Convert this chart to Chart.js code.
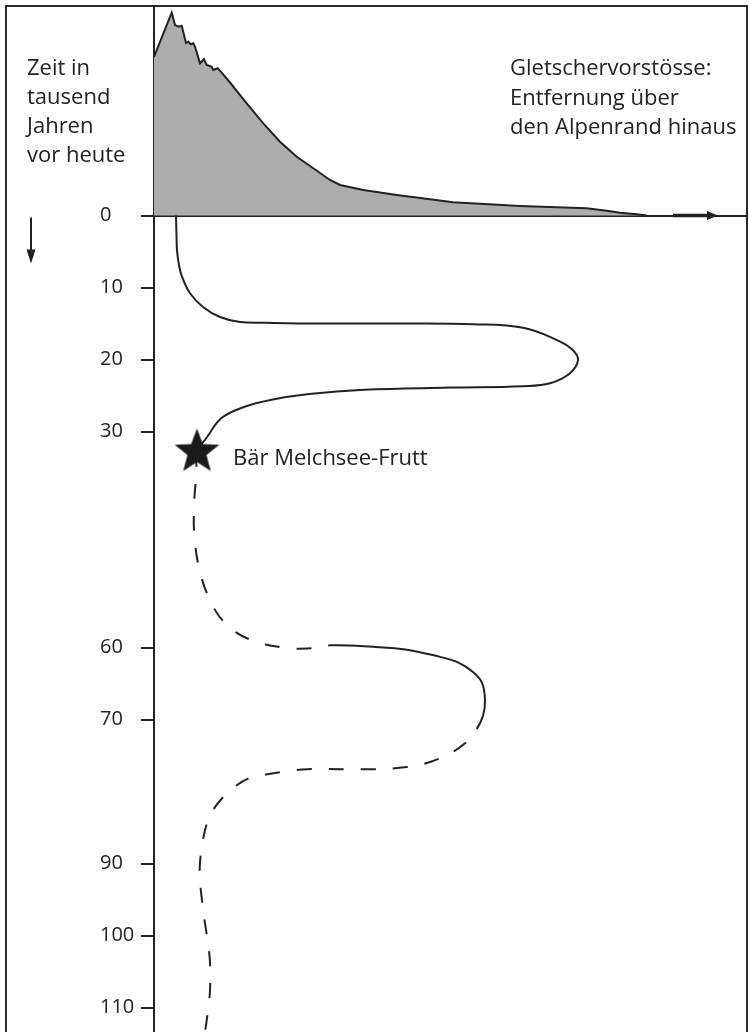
<!DOCTYPE html>
<html><head><meta charset="utf-8">
<script src="https://cdn.jsdelivr.net/npm/chart.js@4.4.1/dist/chart.umd.min.js"></script>
<style>
html,body{margin:0;padding:0;background:#fff;overflow:hidden;}
#frame{position:absolute;left:5px;top:5px;width:739px;height:1100px;border:2px solid #2b2b2b;}
#wrap{position:absolute;left:0;top:0;width:749px;height:1032px;}
</style></head><body>
<div id="frame"></div>
<div id="wrap"><canvas id="c" width="749" height="1032"></canvas></div>
<script>
// ---- data ----
const timeTicks = [0, 10, 20, 30, 60, 70, 90, 100, 110];

// top panel: glacier advance beyond the Alpine edge (distance, relative extent)
const advanceDistance = [0, 3.54, 4.2, 4.86, 5.54, 6.4, 6.86, 7.34, 7.86, 8.2, 9.2, 10.0, 10.54, 11.54, 11.86, 12.74, 13.54, 15.2, 18.54, 21.86, 25.2, 28.54, 31.86, 35.2, 37.2, 41.86, 48.54, 55.2, 59.8, 73.2, 86.54, 90.54, 93.2, 96.54, 98.54];
const advanceHeight   = [79.25, 101.4, 95.25, 94.4, 94.9, 86.25, 86.9, 85.6, 86.1, 84.4, 76.1, 78.1, 75.25, 74.4, 72.75, 73.6, 71.4, 66.5, 56.1, 46.1, 36.9, 29.4, 23.6, 17.75, 15.25, 12.75, 10.25, 8.1, 6.6, 4.75, 3.6, 2.4, 1.4, 0.6, 0];

// lower panel: glacier extent through time (distance, thousand years before today)
const curveDistance = [4.4, 4.5, 4.6, 5.0, 5.6, 7.2, 9.8, 13.2, 17.2, 22.6, 33.2, 49.2, 63.8, 73.8, 80.6, 83.8, 84.8, 83.2, 79.2, 73.8, 59.2, 42.0, 31.0, 23.5, 17.6, 13.4, 10.6, 8.6,
  8.5, 8.0, 8.1, 9.1, 11.2, 14.2, 19.2, 25.8, 31.8,
  35.2, 43.8, 50.6, 57.2, 60.6, 63.8, 65.6, 66.2, 65.8,
  64.2, 62.2, 59.2, 55.2, 50.6, 43.8, 30.6, 26.6, 22.6, 19.2, 15.8, 13.8, 11.8, 10.6, 9.8, 9.2, 9.2, 9.6, 10.2, 10.8, 11.2, 11.2, 10.8, 10.2];
const curveTime = [0, 2.7, 4.8, 6.9, 8.5, 10.8, 12.7, 14.1, 14.8, 14.9, 15.0, 15.0, 15.1, 15.6, 17.3, 18.7, 20.1, 21.9, 23.3, 23.7, 23.9, 24.2, 24.8, 25.6, 26.7, 28.2, 30.8, 32.85,
  35.4, 40.4, 44.6, 49.2, 53.4, 56.6, 58.9, 60.0, 60.1,
  59.7, 59.9, 60.3, 61.3, 62.0, 63.4, 64.9, 67.3, 69.5,
  71.7, 73.3, 74.7, 75.9, 76.6, 76.9, 76.9, 77.2, 77.6, 78.1, 79.5, 80.8, 82.6, 84.4, 86.7, 89.9, 92.3, 95.1, 98.3, 101.0, 103.8, 107.6, 110.4, 113.4];
// index ranges of the curve drawn solid (the rest is dashed)
const solidRuns = [[0, 27], [37, 45]];

const starDistance = [8.6];
const starTime = [32.85];
const starLabel = 'Bär Melchsee-Frutt';

const axisTitleLines = ['Zeit in', 'tausend', 'Jahren', 'vor heute'];
const legendLines = ['Gletschervorstösse:', 'Entfernung über', 'den Alpenrand hinaus'];

// ---- helpers ----
const INK = '#222';
function makeStar(R, r) {
  const size = Math.ceil(2 * R + 4);
  const s = document.createElement('canvas');
  s.width = size; s.height = size;
  const c = s.getContext('2d');
  c.fillStyle = '#1a1a1a';
  c.beginPath();
  for (let i = 0; i < 10; i++) {
    const rad = i % 2 === 0 ? R : r;
    const a = -Math.PI / 2 + i * Math.PI / 5;
    const px = size / 2 + rad * Math.cos(a), py = size / 2 + rad * Math.sin(a);
    if (i === 0) c.moveTo(px, py); else c.lineTo(px, py);
  }
  c.closePath(); c.fill();
  return s;
}
function isSolid(i) { return solidRuns.some(([a, b]) => i >= a && i < b); }

const decor = {
  id: 'decor',
  afterDraw(chart) {
    const { ctx, scales: { x, y } } = chart;
    const zeroY = y.getPixelForValue(0);
    ctx.save();
    ctx.fillStyle = INK; ctx.strokeStyle = INK;
    ctx.font = '22px "Open Sans"';
    ctx.textAlign = 'left'; ctx.textBaseline = 'alphabetic';
    axisTitleLines.forEach((t, i) => ctx.fillText(t, 27, 75 + i * 29));
    legendLines.forEach((t, i) => ctx.fillText(t, 510, 75 + i * 29.5));
    const p = chart.getDatasetMeta(2).data[0];
    ctx.fillText(starLabel, p.x + 36, p.y + 13);
    // downward time arrow
    ctx.lineWidth = 2;
    ctx.beginPath(); ctx.moveTo(31, zeroY + 2); ctx.lineTo(31, zeroY + 36); ctx.stroke();
    ctx.beginPath(); ctx.moveTo(26.5, zeroY + 34); ctx.lineTo(35.5, zeroY + 34); ctx.lineTo(31, zeroY + 48); ctx.closePath(); ctx.fill();
    // arrow on the distance axis
    const a0 = x.getPixelForValue(103.8), a1 = x.getPixelForValue(110.6), a2 = x.getPixelForValue(112.8);
    ctx.lineWidth = 3.5;
    ctx.beginPath(); ctx.moveTo(a0, zeroY); ctx.lineTo(a1 + 1, zeroY); ctx.stroke();
    ctx.beginPath(); ctx.moveTo(a1, zeroY - 4.5); ctx.lineTo(a1, zeroY + 4.5); ctx.lineTo(a2, zeroY); ctx.closePath(); ctx.fill();
    ctx.restore();
  }
};

function build() {
  new Chart(document.getElementById('c'), {
    type: 'line',
    data: {
      datasets: [
        {
          data: advanceDistance.map((v, i) => ({ x: v, y: advanceHeight[i] })),
          yAxisID: 'yh', borderColor: INK, borderWidth: 2, backgroundColor: '#adadad',
          fill: 'origin', pointRadius: 0, tension: 0, order: 3
        },
        {
          data: curveDistance.map((v, i) => ({ x: v, y: curveTime[i] })),
          yAxisID: 'y', borderColor: INK, borderWidth: 2, fill: false, pointRadius: 0,
          tension: 0.4, order: 2,
          segment: { borderDash: c => isSolid(c.p0DataIndex) ? [] : [15, 17] }
        },
        {
          type: 'scatter',
          data: starDistance.map((v, i) => ({ x: v, y: starTime[i] })),
          yAxisID: 'y', pointStyle: makeStar(23.5, 10), pointRadius: 0.5, order: 0
        }
      ]
    },
    options: {
      responsive: false, animation: false, events: [],
      layout: { autoPadding: false, padding: { left: 100, top: 6, right: 2, bottom: 0 } },
      plugins: { legend: { display: false }, tooltip: { enabled: false } },
      scales: {
        x: { type: 'linear', min: 0, max: 118.6, display: false },
        y: {
          type: 'linear', position: 'left', reverse: true, min: -29.1, max: 113.4, z: 1,
          afterBuildTicks: s => { s.ticks = timeTicks.map(v => ({ value: v })); },
          afterFit: s => { s.width = 54; s.paddingTop = 0; s.paddingBottom = 0; },
          border: { display: true, color: INK, width: 2 },
          grid: {
            drawOnChartArea: true, lineWidth: 2, tickLength: 13, tickColor: INK, tickWidth: 2,
            color: c => (c.tick && c.tick.value === 0) ? INK : 'rgba(0,0,0,0)'
          },
          ticks: { autoSkip: false, crossAlign: 'far', padding: 14, color: INK, font: { family: 'Open Sans', size: 20 } }
        },
        yh: { type: 'linear', position: 'left', display: false, min: -408.25, max: 104.75 }
      }
    },
    plugins: [decor]
  });
}
if (document.fonts && document.fonts.load) {
  Promise.all([document.fonts.load('22px "Open Sans"'), document.fonts.load('20px "Open Sans"')]).then(build, build);
} else { build(); }
</script>
</body></html>
